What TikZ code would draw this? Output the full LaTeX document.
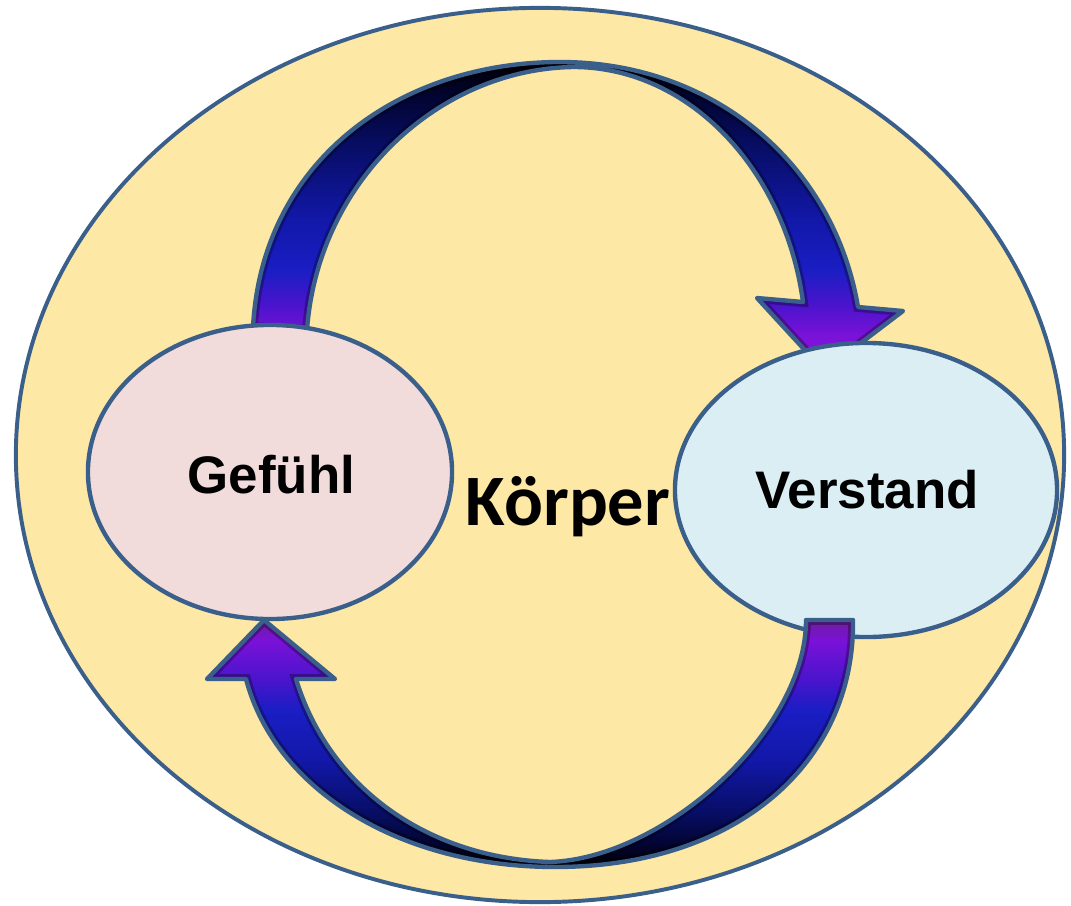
\documentclass[tikz,border=0pt]{standalone}
\usepackage{fontspec}
\setmainfont{Liberation Sans}
\newfontfamily\korperfont{Carlito}
\usetikzlibrary{shapes.geometric}

\definecolor{rim}{HTML}{3A5F8B}
\definecolor{bodyfill}{HTML}{FDE8A6}
\definecolor{feelfill}{HTML}{F2DCDB}
\definecolor{mindfill}{HTML}{DBEEF4}

% colour stops of the arrow gradients
\definecolor{fA}{HTML}{8A10E0}
\definecolor{fB}{HTML}{7A12D8}
\definecolor{fC}{HTML}{4A14CC}
\definecolor{fD}{HTML}{1A1EC4}
\definecolor{fE}{HTML}{1218A8}
\definecolor{fF}{HTML}{080E68}
\definecolor{fG}{HTML}{020430}
\definecolor{fH}{HTML}{000000}
\definecolor{fM}{HTML}{6E1C9C}

% gradient of the upper arrow: violet at its foot, black at its crest
\pgfdeclareverticalshading{upperflow}{100bp}{%
  color(0bp)=(fA); color(25bp)=(fA); color(30.8bp)=(fB);
  color(35.7bp)=(fC); color(41.3bp)=(fD); color(49.4bp)=(fE);
  color(60.8bp)=(fF); color(69.7bp)=(fG); color(75bp)=(fH);
  color(100bp)=(fH)}
% gradient of the lower arrow: violet at its top, black at its bottom
\pgfdeclareverticalshading{lowerflow}{100bp}{%
  color(0bp)=(fH); color(25bp)=(fH); color(29.5bp)=(fG);
  color(36.5bp)=(fF); color(46.7bp)=(fE); color(56.8bp)=(fD);
  color(62.9bp)=(fC); color(70.9bp)=(fB); color(75bp)=(fM);
  color(100bp)=(fM)}

\tikzset{
  rimline/.style={draw=rim, line width=3.1pt, line join=round},
  blob/.style={ellipse, rimline, inner sep=0pt},
  label/.style={font=\fontsize{37.6}{41}\selectfont\bfseries, anchor=base, inner sep=0pt},
}

% outlines of the two curved arrows
\def\upperarrow{(253,327) .. controls (262,160) and (400,62) .. (560,62)
  .. controls (715,62) and (834,165) .. (858,307)
  -- (903,311) -- (824,371) -- (757,298) -- (803,302)
  .. controls (785,170) and (690,68) .. (575,67)
  .. controls (440,68) and (318,180) .. (307,330) -- cycle}
\def\lowerarrow{(806,620) -- (853,620)
  .. controls (855,760) and (740,867) .. (555,867)
  .. controls (400,867) and (275,790) .. (246,679)
  -- (207,679) -- (264,620) -- (335,679) -- (296,679)
  .. controls (330,790) and (430,858) .. (550,862)
  .. controls (665,858) and (806,730) .. (806,620) -- cycle}

\begin{document}
\begin{tikzpicture}[x=0.025cm, y=-0.025cm]
  \useasboundingbox (0,0) rectangle (1071,906);

  % the body
  \node[blob, fill=bodyfill, line width=2.8pt, minimum width=26.2cm, minimum height=22.35cm] (body) at (540,455) {};

  % upper arrow, from feeling to reason
  \begin{scope}
    \clip \upperarrow;
    \shade[shading=upperflow] \upperarrow;
    \draw[black, opacity=0.3, line width=7pt] \upperarrow;
  \end{scope}
  \draw[rimline] \upperarrow;

  % feeling and reason
  \node[blob, fill=feelfill, minimum width=9.1cm, minimum height=7.35cm] (gef) at (270,472) {};
  \node[blob, fill=mindfill, minimum width=9.55cm, minimum height=7.35cm] (ver) at (866,490) {};

  % lower arrow, from reason back to feeling
  \begin{scope}
    \clip \lowerarrow;
    \shade[shading=lowerflow] \lowerarrow;
    \draw[black, opacity=0.3, line width=7pt] \lowerarrow;
  \end{scope}
  \draw[rimline] \lowerarrow;

  % texts
  \node[label] (gtext) at (271.5,493) {Gefühl};
  \node[label] (vtext) at (867,508) {Verstand};
  \node[anchor=base, inner sep=0pt, font=\korperfont\fontsize{51.5}{56}\selectfont\bfseries] (ktext) at (568,525) {Körper};
\end{tikzpicture}
\end{document}
